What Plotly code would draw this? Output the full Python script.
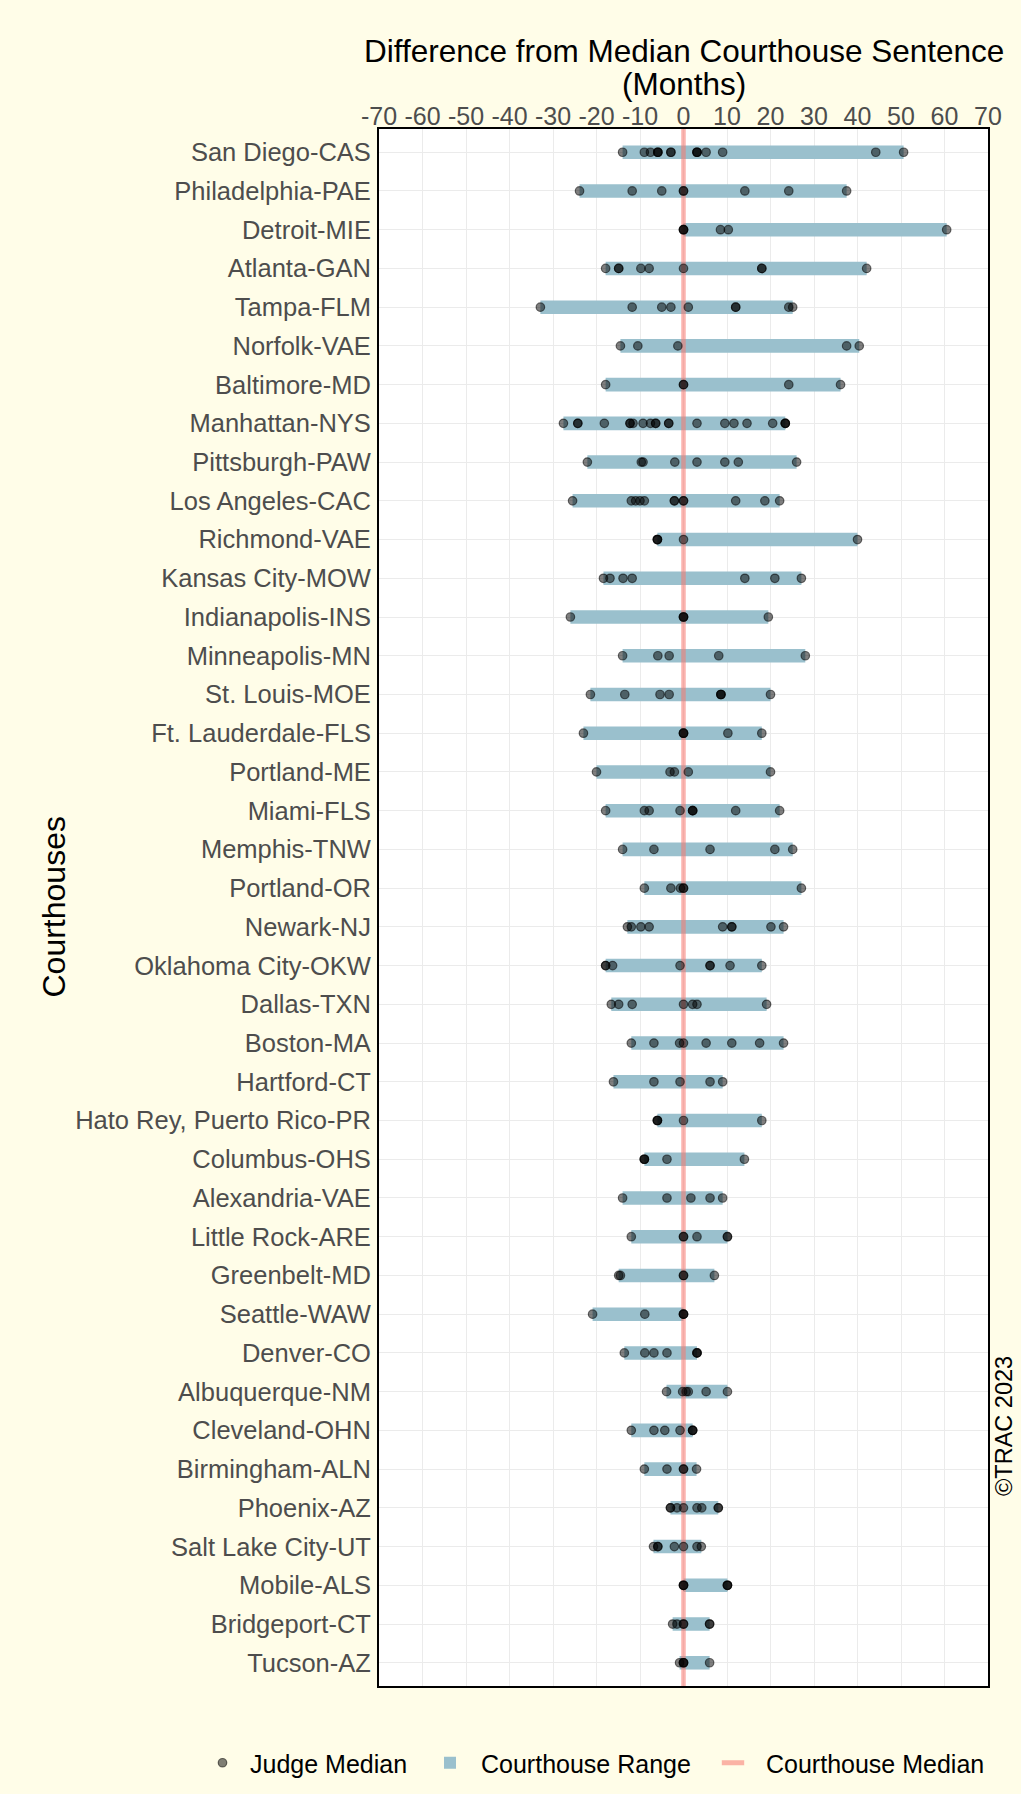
import plotly.graph_objects as go

# ---------------- data ----------------
courts = [
    "San Diego-CAS", "Philadelphia-PAE", "Detroit-MIE", "Atlanta-GAN", "Tampa-FLM",
    "Norfolk-VAE", "Baltimore-MD", "Manhattan-NYS", "Pittsburgh-PAW", "Los Angeles-CAC",
    "Richmond-VAE", "Kansas City-MOW", "Indianapolis-INS", "Minneapolis-MN", "St. Louis-MOE",
    "Ft. Lauderdale-FLS", "Portland-ME", "Miami-FLS", "Memphis-TNW", "Portland-OR",
    "Newark-NJ", "Oklahoma City-OKW", "Dallas-TXN", "Boston-MA", "Hartford-CT",
    "Hato Rey, Puerto Rico-PR", "Columbus-OHS", "Alexandria-VAE", "Little Rock-ARE", "Greenbelt-MD",
    "Seattle-WAW", "Denver-CO", "Albuquerque-NM", "Cleveland-OHN", "Birmingham-ALN",
    "Phoenix-AZ", "Salt Lake City-UT", "Mobile-ALS", "Bridgeport-CT", "Tucson-AZ",
]

range_low = [
    -14.0, -23.9, 0.0, -17.9, -32.9, -14.5, -17.9, -27.6, -22.1, -25.5,
    -6.0, -18.4, -26.0, -14.0, -21.4, -23.0, -20.0, -17.9, -14.0, -9.0,
    -12.9, -17.9, -16.6, -12.0, -16.1, -6.0, -9.0, -14.0, -12.0, -14.9,
    -20.9, -13.6, -3.9, -12.0, -9.0, -3.0, -6.9, 0.0, -2.5, -0.9,
]
range_high = [
    50.6, 37.5, 60.5, 42.1, 25.1, 40.4, 36.1, 23.4, 26.0, 22.1,
    40.0, 27.1, 19.5, 28.0, 20.0, 18.0, 20.0, 22.1, 25.1, 27.1,
    23.0, 18.0, 19.1, 23.0, 9.0, 18.0, 14.0, 9.0, 10.1, 7.1,
    0.0, 3.1, 10.1, 2.1, 3.0, 8.0, 4.1, 10.1, 6.0, 6.0,
]

judge_medians = [
    [-14.0, -9.0, -7.6, -5.9, -5.9, -5.9, -2.9, -2.9, 3.1, 3.1, 3.1, 5.2, 9.0, 44.2, 50.6],
    [-23.9, -11.8, -5.0, 0.0, 0.0, 14.1, 24.2, 37.5],
    [0.0, 0.0, 0.0, 8.5, 10.3, 60.5],
    [-17.9, -14.9, -14.9, -9.8, -7.9, 0.0, 18.0, 18.0, 42.1],
    [-32.9, -11.8, -5.0, -2.9, 1.1, 12.0, 12.0, 24.2, 25.1],
    [-14.5, -10.5, -1.3, 37.5, 40.4],
    [-17.9, 0.0, 0.0, 24.2, 36.1],
    [-27.6, -24.3, -24.3, -18.2, -12.3, -12.3, -11.6, -9.3, -7.6, -6.4, -6.4,
     -3.4, -3.4, 3.1, 9.5, 11.6, 14.6, 20.5, 23.4, 23.4, 23.4],
    [-22.1, -9.7, -9.3, -2.0, 3.1, 9.5, 12.6, 26.0],
    [-25.5, -12.0, -11.0, -10.0, -9.0, -2.1, -2.1, 0.0, 0.0, 12.0, 18.7, 22.1],
    [-6.0, -6.0, -6.0, 0.0, 40.0],
    [-18.4, -16.9, -13.9, -11.8, 14.1, 21.0, 27.1],
    [-26.0, 0.0, 0.0, 0.0, 19.5],
    [-14.0, -5.9, -3.3, 8.1, 28.0],
    [-21.4, -13.5, -5.4, -3.3, 8.6, 8.6, 8.6, 20.0],
    [-23.0, 0.0, 0.0, 0.0, 10.2, 18.0],
    [-20.0, -3.1, -2.1, 1.1, 20.0],
    [-17.9, -9.0, -7.9, -0.8, 2.1, 2.1, 2.1, 12.0, 22.1],
    [-14.0, -6.8, 6.1, 21.0, 25.1],
    [-9.0, -2.9, -0.7, 0.0, 0.0, 27.1],
    [-12.9, -12.0, -9.8, -7.9, 9.0, 11.1, 11.1, 20.1, 23.0],
    [-17.9, -17.9, -16.3, -0.8, 6.1, 6.1, 10.7, 18.0],
    [-16.6, -14.9, -11.8, 0.0, 2.1, 3.1, 19.1],
    [-12.0, -6.8, -0.9, 0.0, 5.2, 11.1, 17.5, 23.0],
    [-16.1, -6.8, -0.8, 6.1, 9.0],
    [-6.0, -6.0, -6.0, 0.0, 18.0],
    [-9.0, -9.0, -9.0, -3.8, 14.0],
    [-14.0, -3.8, 1.7, 6.1, 9.0],
    [-12.0, 0.0, 0.0, 3.1, 10.1, 10.1],
    [-14.9, -14.5, 0.0, 0.0, 7.1],
    [-20.9, -8.9, 0.0, 0.0, 0.0],
    [-13.6, -8.9, -6.8, -3.8, 3.1, 3.1, 3.1],
    [-3.9, -0.2, 0.6, 1.1, 5.2, 10.1],
    [-12.0, -6.8, -4.3, -0.8, 2.1, 2.1, 2.1],
    [-9.0, -3.8, 0.0, 0.0, 3.0],
    [-3.0, -3.0, -1.5, 0.0, 3.1, 4.2, 8.0, 8.0],
    [-6.9, -5.9, -5.9, -2.1, 0.0, 3.1, 4.1],
    [0.0, 0.0, 0.0, 10.1, 10.1, 10.1],
    [-2.5, -1.5, 0.0, 0.0, 6.0, 6.0],
    [-0.9, 0.0, 0.0, 0.0, 6.0],
]

courthouse_median = 0.0
x_ticks = list(range(-70, 71, 10))

# ---------------- styling ----------------
FONT = "Liberation Sans, Arial, sans-serif"
BG = "#FFFDE8"
BAR_COLOR = "#9AC0CD"
LINE_COLOR = "rgba(248,118,109,0.55)"
DOT_FILL = "rgba(0,0,0,0.5)"
DOT_EDGE = "rgba(0,0,0,0.55)"
TICK_COLOR = "#4d4d4d"

n = len(courts)
ypos = list(range(n))
y_lo, y_hi = -0.6, n - 1 + 0.6

fig = go.Figure()

# Courthouse range bars
fig.add_trace(go.Bar(
    y=ypos,
    x=[h - l for l, h in zip(range_low, range_high)],
    base=range_low,
    orientation="h",
    width=0.35,
    marker=dict(color=BAR_COLOR, line=dict(width=0)),
    name="Courthouse Range",
    legend="legend2",
    hoverinfo="skip",
))

# Courthouse median line (reference line across the panel)
fig.add_trace(go.Scatter(
    x=[courthouse_median, courthouse_median],
    y=[y_lo, y_hi],
    mode="lines",
    line=dict(color=LINE_COLOR, width=4.5),
    name="Courthouse Median",
    showlegend=False,
    hoverinfo="skip",
))
# legend key for the median line (short thick dash, as in the original key)
fig.add_trace(go.Scatter(
    x=[None], y=[None],
    mode="markers",
    marker=dict(symbol="line-ew", size=16, line=dict(width=5, color=LINE_COLOR)),
    name="Courthouse Median",
    legend="legend3",
    hoverinfo="skip",
))

# Judge medians
jx, jy = [], []
for i, vals in enumerate(judge_medians):
    for v in vals:
        jx.append(v)
        jy.append(ypos[i])
fig.add_trace(go.Scatter(
    x=jx, y=jy,
    mode="markers",
    marker=dict(size=8.5, color=DOT_FILL, line=dict(width=1.2, color=DOT_EDGE)),
    name="Judge Median",
    legend="legend",
    hoverinfo="skip",
))

W, H = 1021, 1794
ml, mr, mt, mb = 379, 33, 129, 108
plot_w = W - ml - mr
plot_h = H - mt - mb

def py(px):
    return (H - mb - px) / plot_h

def pxx(px):
    return (px - ml) / plot_w

legend_common = dict(
    orientation="h", xref="paper", yref="paper",
    yanchor="middle", xanchor="left", y=py(1763),
    bgcolor="rgba(0,0,0,0)", borderwidth=0,
    font=dict(family=FONT, size=25, color="black"),
)

fig.update_layout(
    width=W, height=H, autosize=False,
    margin=dict(l=ml, r=mr, t=mt, b=mb, pad=0, autoexpand=False),
    paper_bgcolor=BG, plot_bgcolor="white",
    font=dict(family=FONT, color="black"),
    showlegend=True,
    legend=dict(x=pxx(195), itemwidth=45, **legend_common),
    legend2=dict(x=pxx(419), itemwidth=52, **legend_common),
    legend3=dict(x=pxx(700), itemwidth=56, **legend_common),
    xaxis=dict(
        range=[-70, 70], side="top",
        tickmode="array", tickvals=x_ticks, ticktext=[str(v) for v in x_ticks],
        tickfont=dict(family=FONT, size=25, color=TICK_COLOR),
        showgrid=True, gridcolor="#EBEBEB", gridwidth=1,
        zeroline=False, showline=True, linecolor="black", linewidth=2, mirror=True,
        ticks="", ticklabelstandoff=-8, fixedrange=True,
    ),
    yaxis=dict(
        range=[y_hi, y_lo],
        tickmode="array", tickvals=ypos, ticktext=courts,
        tickfont=dict(family=FONT, size=25.5, color=TICK_COLOR),
        showgrid=True, gridcolor="#EBEBEB", gridwidth=1,
        zeroline=False, showline=True, linecolor="black", linewidth=2, mirror=True,
        ticks="", ticklabelstandoff=1, fixedrange=True,
    ),
    annotations=[
        dict(text="Difference from Median Courthouse Sentence", xref="paper", yref="paper",
             x=0.5, y=py(51), xanchor="center", yanchor="middle", showarrow=False,
             font=dict(family=FONT, size=31.5, color="black")),
        dict(text="(Months)", xref="paper", yref="paper",
             x=0.5, y=py(84), xanchor="center", yanchor="middle", showarrow=False,
             font=dict(family=FONT, size=31.5, color="black")),
        dict(text="Courthouses", xref="paper", yref="paper", textangle=-90,
             x=pxx(53), y=0.5, xanchor="center", yanchor="middle",
             showarrow=False, font=dict(family=FONT, size=32, color="black")),
        dict(text="©TRAC 2023", xref="paper", yref="paper", textangle=-90,
             x=pxx(1004), y=py(1426), xanchor="center", yanchor="middle",
             showarrow=False, font=dict(family=FONT, size=23.5, color="black")),
    ],
)

fig.write_html(
    "out.html",
    config={"displayModeBar": False},
    post_script="document.body.style.margin='0';document.body.style.padding='0';"
                "document.body.style.background='" + BG + "';",
)
